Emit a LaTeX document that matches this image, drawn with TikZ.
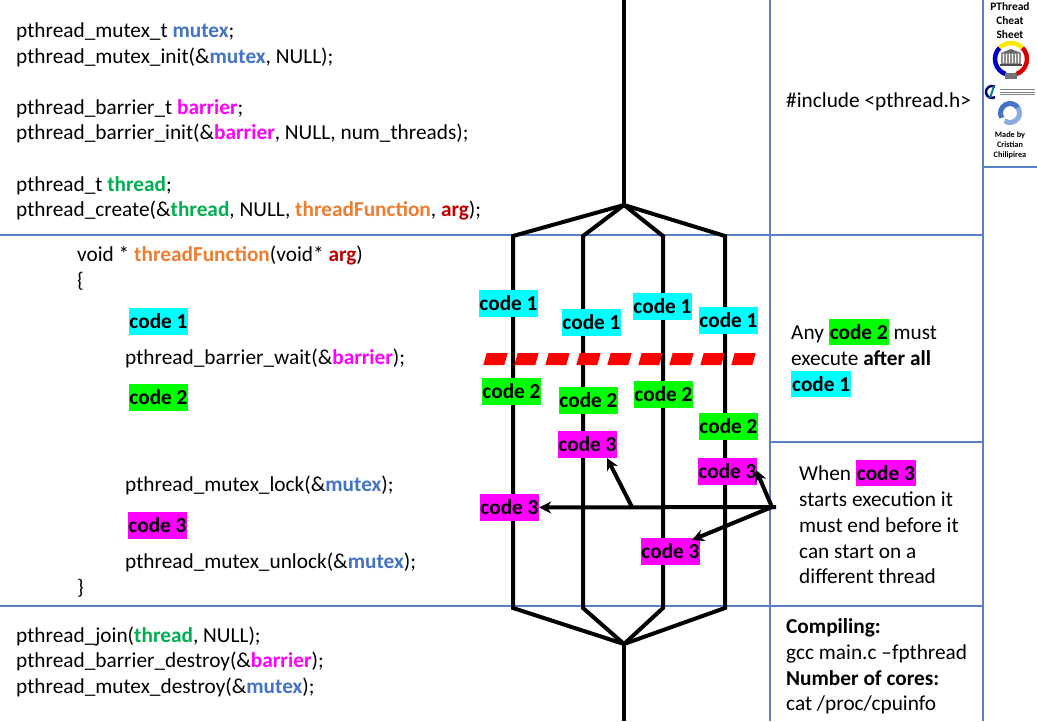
\documentclass[tikz,border=0pt]{standalone}
\usepackage{fontspec}
\setmainfont{Carlito}
\usetikzlibrary{arrows.meta}
\definecolor{lineblue}{HTML}{5B7FC7}
\definecolor{mutexc}{HTML}{4472C4}
\definecolor{barrierc}{HTML}{FF00FF}
\definecolor{threadc}{HTML}{00B050}
\definecolor{funcc}{HTML}{ED7D31}
\definecolor{argc}{HTML}{C00000}
\definecolor{cone}{HTML}{00FFFF}
\definecolor{ctwo}{HTML}{00FF00}
\definecolor{cthree}{HTML}{FF00FF}
\newcommand{\mtxw}{\textcolor{mutexc}{\textbf{mutex}}}
\newcommand{\barw}{\textcolor{barrierc}{\textbf{barrier}}}
\newcommand{\thrw}{\textcolor{threadc}{\textbf{thread}}}
\newcommand{\tfnw}{\textcolor{funcc}{\textbf{threadFunction}}}
\newcommand{\argw}{\textcolor{argc}{\textbf{arg}}}
\newcommand{\hlc}[2]{{\setlength{\fboxsep}{0pt}\colorbox{#1}{\rule[-6pt]{0pt}{26pt}\kern1pt\textbf{#2}\kern1pt}}}
\tikzset{
  x=1pt,y=-1pt,
  txt/.style={anchor=base west,inner sep=0pt,font=\fontsize{21.3}{25}\selectfont,text=black},
  codeb/.style={inner sep=0pt,minimum width=59pt,minimum height=27pt,font=\fontsize{21.3}{25}\selectfont\bfseries,text=black},
  boxone/.style={codeb,fill=cone},
  boxtwo/.style={codeb,fill=ctwo},
  boxthree/.style={codeb,fill=cthree},
  grid/.style={draw=lineblue,line width=1.8pt},
  thrline/.style={draw=black,line width=4pt,line join=miter},
  arw/.style={draw=black,line width=4pt,-{Stealth[length=12pt,width=12pt]}},
  dashp/.style={fill=red,draw=none},
  side/.style={inner sep=0pt,font=\fontsize{11.4}{14}\selectfont\bfseries,text=black,align=center},
  sidetwo/.style={inner sep=0pt,font=\fontsize{8.3}{10}\selectfont\bfseries,text=black,align=center},
}
\begin{document}
\begin{tikzpicture}
\useasboundingbox (0,0) rectangle (1037,721);
\fill[white] (0,0) rectangle (1037,721);
% grid
\coordinate (gL1) at (0,235); \coordinate (gR1) at (983,235);
\coordinate (gL2) at (0,606); \coordinate (gR2) at (983,606);
\coordinate (gV1t) at (770,0); \coordinate (gV1b) at (770,721);
\coordinate (gV2t) at (983,0); \coordinate (gV2b) at (983,721);
\coordinate (gM1) at (770,442); \coordinate (gM2) at (983,442);
\coordinate (gS2) at (1037,167); \coordinate (gS1) at (983,167);
\draw[grid] (gL1)--(gR1);
\draw[grid] (gL2)--(gR2);
\draw[grid] (gV1t)--(gV1b);
\draw[grid] (gV2t)--(gV2b);
\draw[grid] (gM1)--(gM2);
\draw[grid] (gS1)--(gS2);
% threads
\coordinate (top) at (624,0);
\coordinate (fork) at (624,205);
\coordinate (ta) at (513,236); \coordinate (tb) at (583,236); \coordinate (tc) at (663,236); \coordinate (td) at (725,236);
\coordinate (ba) at (513,608); \coordinate (bb) at (583,608); \coordinate (bc) at (663,608); \coordinate (bd) at (725,608);
\coordinate (join) at (624,644);
\coordinate (bot) at (624,721);
\draw[thrline] (top)--(fork);
\draw[thrline] (fork)--(ta)--(ba)--(join);
\draw[thrline] (fork)--(tb)--(bb)--(join);
\draw[thrline] (fork)--(tc)--(bc)--(join);
\draw[thrline] (fork)--(td)--(bd)--(join);
\draw[thrline] (join)--(bot);
% code boxes on threads
\node[boxone] (a1) at (508.5,303.5) {code 1};
\node[boxone] (b1) at (591.5,322.5) {code 1};
\node[boxone] (c1) at (662.5,306.5) {code 1};
\node[boxone] (d1) at (728.5,320.5) {code 1};
\node[boxtwo] (a2) at (511.5,391.5) {code 2};
\node[boxtwo] (b2) at (588.5,400.5) {code 2};
\node[boxtwo] (c2) at (663.5,394.5) {code 2};
\node[boxtwo] (d2) at (728.5,426.5) {code 2};
\node[boxthree] (b3) at (587.5,444.5) {code 3};
\node[boxthree] (d3) at (727.5,471.5) {code 3};
\node[boxthree] (a3) at (509.5,507.5) {code 3};
\node[boxthree] (c3) at (670.5,551.5) {code 3};
% red dashed barrier
\foreach \i in {0,...,8}{
  \fill[dashp] ({483.3+31*\i},365) -- ({486.7+31*\i},353) -- ({507.7+31*\i},353) -- ({504.3+31*\i},365) -- cycle;
}
% arrows
\coordinate (src) at (776,507);
\coordinate (srcb) at (772,507);
\coordinate (mid) at (632,507);
\coordinate (hb) at (607,458);
\coordinate (hd) at (756,470);
\coordinate (hc) at (692,540);
\draw[arw] (src) -- (a3.east);
\draw[arw] (mid) -- (hb);
\draw[arw] (srcb) -- (hd);
\draw[arw] (srcb) -- (hc);
% left code text
\node[txt] (t1) at (16,37) {pthread\_mutex\_t \mtxw;};
\node[txt] (t2) at (16,63) {pthread\_mutex\_init(\&\mtxw, NULL);};
\node[txt] (t3) at (16,114) {pthread\_barrier\_t \barw;};
\node[txt] (t4) at (16,139) {pthread\_barrier\_init(\&\barw, NULL, num\_threads);};
\node[txt] (t5) at (16,191) {pthread\_t \thrw;};
\node[txt] (t6) at (16,216) {pthread\_create(\&\thrw, NULL, \tfnw, \argw);};
\node[txt] (f1) at (77,261) {void * \tfnw(void* \argw)};
\node[txt] (f2) at (77,287) {\{};
\node[boxone] (l1) at (158.5,321) {code 1};
\node[txt] (f3) at (125,364) {pthread\_barrier\_wait(\&\barw);};
\node[boxtwo] (l2) at (158.5,397) {code 2};
\node[txt] (f4) at (125,491) {pthread\_mutex\_lock(\&\mtxw);};
\node[boxthree] (l3) at (157.5,525) {code 3};
\node[txt] (f5) at (125,568) {pthread\_mutex\_unlock(\&\mtxw);};
\node[txt] (f6) at (77,594) {\}};
\node[txt] (j1) at (16,642) {pthread\_join(\thrw, NULL);};
\node[txt] (j2) at (16,667) {pthread\_barrier\_destroy(\&\barw);};
\node[txt] (j3) at (16,693) {pthread\_mutex\_destroy(\&\mtxw);};
% right text
\node[txt] (r1) at (786,107) {\#include <pthread.h>};
\node[txt] (r2) at (791,339) {Any \hlc{ctwo}{code 2} must};
\node[txt] (r3) at (791,365) {execute \textbf{after all}};
\node[txt] (r4) at (791,391) {\hlc{cone}{code 1}};
\node[txt] (r5) at (799,480) {When \hlc{cthree}{code 3}};
\node[txt] (r6) at (799,506) {starts execution it};
\node[txt] (r7) at (799,532) {must end before it};
\node[txt] (r8) at (799,558) {can start on a};
\node[txt] (r9) at (799,583) {different thread};
\node[txt] (k1) at (786,633) {\textbf{Compiling:}};
\node[txt] (k2) at (786,659) {gcc main.c –fpthread};
\node[txt] (k3) at (786,685) {\textbf{Number of cores:}};
\node[txt] (k4) at (786,710) {cat /proc/cpuinfo};
% side panel
\node[side] (s1) at (1010,7) {PThread};
\node[side] (s2) at (1010,21) {Cheat};
\node[side] (s3) at (1010,35) {Sheet};
\node[sidetwo] (s4) at (1010,135) {Made by};
\node[sidetwo] (s5) at (1010,145) {Cristian};
\node[sidetwo] (s6) at (1010,155) {Chilipirea};
% logo 1: university seal
\begin{scope}[shift={(1011,59)},x=1pt,y=1pt]
  \draw[line width=4.5pt,blue!75!black] (135:16) arc[start angle=135,end angle=250,radius=16];
  \draw[line width=4.5pt,red!85!black] (45:16) arc[start angle=45,end angle=-70,radius=16];
  \draw[line width=4.5pt,yellow!90!orange] (45:16) arc[start angle=45,end angle=135,radius=16];
  \fill[black!60] (-10,6) -- (0,10) -- (10,6) -- cycle;
  \fill[black!45] (-10,-5) rectangle (10,6);
  \foreach \q in {-8,-5,-2,1,4,7}{\fill[white] (\q,-4) rectangle (\q+1.4,5);}
  \fill[black!70] (-11,-7) rectangle (11,-5);
  \fill[black!55] (-6,-20) rectangle (6,-14);
\end{scope}
% logo 2: faculty mark
\begin{scope}[shift={(992,92)},x=1pt,y=1pt]
  \draw[line width=2.4pt,black!60!blue] (60:6) arc[start angle=60,end angle=300,radius=6];
  \fill[teal] (-1,-6) -- (3,6) -- (1,6) -- (-3,-6) -- cycle;
  \foreach \q in {2.5,0,-2.5}{\draw[line width=.9pt,black!50] (8,\q) -- (43,\q);}
\end{scope}
% logo 3: blue ring
\begin{scope}[shift={(1010,113)},x=1pt,y=1pt]
  \draw[line width=5pt,mutexc] (30:9.5) arc[start angle=30,end angle=210,radius=9.5];
  \draw[line width=5pt,mutexc!60] (235:9.5) arc[start angle=235,end angle=395,radius=9.5];
\end{scope}
\end{tikzpicture}
\end{document}
